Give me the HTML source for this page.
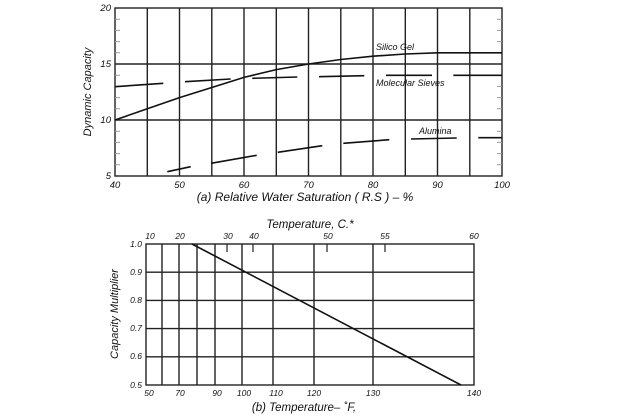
<!DOCTYPE html>
<html><head><meta charset="utf-8"><style>
html,body{margin:0;padding:0;background:#fff;}
svg{display:block;font-family:"Liberation Sans",sans-serif;font-style:italic;}
</style></head><body>
<svg width="630" height="420" viewBox="0 0 630 420">
<g stroke="#222" stroke-width="1.4" fill="none">
<!-- top chart frame -->
<rect x="115" y="8" width="387" height="168"/>
<line x1="147.3" y1="8" x2="147.3" y2="176"/><line x1="179.5" y1="8" x2="179.5" y2="176"/>
<line x1="211.8" y1="8" x2="211.8" y2="176"/><line x1="244" y1="8" x2="244" y2="176"/>
<line x1="276.3" y1="8" x2="276.3" y2="176"/><line x1="308.5" y1="8" x2="308.5" y2="176"/>
<line x1="340.8" y1="8" x2="340.8" y2="176"/><line x1="373" y1="8" x2="373" y2="176"/>
<line x1="405.3" y1="8" x2="405.3" y2="176"/><line x1="437.5" y1="8" x2="437.5" y2="176"/>
<line x1="469.8" y1="8" x2="469.8" y2="176"/>
<line x1="115" y1="64" x2="502" y2="64"/><line x1="115" y1="120" x2="502" y2="120"/>
</g>
<g stroke="#999" stroke-width="1">
<path d="M115 19.2h5M115 30.4h5M115 41.6h5M115 52.8h5M115 75.2h5M115 86.4h5M115 97.6h5M115 108.8h5M115 131.2h5M115 142.4h5M115 153.6h5M115 164.8h5"/>
<path d="M502 19.2h-5M502 30.4h-5M502 41.6h-5M502 52.8h-5M502 75.2h-5M502 86.4h-5M502 97.6h-5M502 108.8h-5M502 131.2h-5M502 142.4h-5M502 153.6h-5M502 164.8h-5"/>
</g>
<g stroke="#111" stroke-width="1.6" fill="none">
<polyline points="115,120 147.3,108.8 179.5,97.6 211.8,87.5 244,77.4 276.3,69.6 308.5,64 340.8,59.5 373,56.2 405.3,54 437.5,52.8 502,52.8"/>
<path d="M115 86.7L163.3 83.3M185 81.7L230.7 79M252.3 78.3L297.3 77M319 76.7L364.3 75.7M386 75.3L432 75.3M453.3 75.3L502 75.3"/>
<path d="M167.3 171.7L190.7 166.7M211 163.3L256.7 155.3M277.7 152.3L322.3 145.7M343.3 143.3L389.3 139.7M411 139L456.7 138M478.3 137.7L502 137.7"/>
</g>
<g font-size="9" fill="#111">
<text x="376" y="50">Silico Gel</text>
<text x="376" y="86">Molecular Sieves</text>
<text x="419" y="134">Alumina</text>
</g>
<g font-size="9.5" fill="#111" text-anchor="end">
<text x="111" y="11">20</text><text x="111" y="67">15</text><text x="111" y="123">10</text><text x="111" y="179">5</text>
</g>
<g font-size="9.5" fill="#111" text-anchor="middle">
<text x="115" y="188">40</text><text x="179.5" y="188">50</text><text x="244" y="188">60</text><text x="308.5" y="188">70</text><text x="373" y="188">80</text><text x="437.5" y="188">90</text><text x="502" y="188">100</text>
</g>
<text x="305" y="201" font-size="12" text-anchor="middle" fill="#111">(a) Relative Water Saturation ( R.S ) – %</text>
<text transform="translate(91,92) rotate(-90)" font-size="11" text-anchor="middle" fill="#111">Dynamic Capacity</text>

<!-- bottom chart -->
<g stroke="#222" stroke-width="1.4" fill="none">
<rect x="146" y="244" width="328" height="141"/>
<path d="M146 272.2H474M146 300.4H474M146 328.6H474M146 356.8H474"/>
<path d="M162 244V385M179 244V385M197 244V385M215 244V385M242 244V385M273 244V385M314 244V385M373 244V385"/>
<path d="M227 244v8M253 244v8M327 244v8M385 244v8" stroke-width="1.2"/>
</g>
<line x1="192" y1="244" x2="461" y2="385" stroke="#111" stroke-width="1.6"/>
<text x="310" y="228" font-size="11.5" text-anchor="middle" fill="#111">Temperature, C.*</text>
<g font-size="8.5" fill="#111" text-anchor="middle">
<text x="150" y="239">10</text><text x="180" y="239">20</text><text x="228" y="239">30</text><text x="254" y="239">40</text><text x="328" y="239">50</text><text x="385" y="239">55</text><text x="474" y="239">60</text>
<text x="149" y="396">50</text><text x="180" y="396">70</text><text x="217" y="396">90</text><text x="244" y="396">100</text><text x="276" y="396">110</text><text x="314" y="396">120</text><text x="373" y="396">130</text><text x="474" y="396">140</text>
</g>
<g font-size="8.5" fill="#111" text-anchor="end">
<text x="142" y="247">1.0</text><text x="142" y="275">0.9</text><text x="142" y="303">0.8</text><text x="142" y="331">0.7</text><text x="142" y="359">0.6</text><text x="142" y="388">0.5</text>
</g>
<text transform="translate(118,314) rotate(-90)" font-size="11" text-anchor="middle" fill="#111">Capacity Multiplier</text>
<text x="304" y="411" font-size="11.5" text-anchor="middle" fill="#111">(b) Temperature– ˚F,</text>
</svg>
</body></html>
